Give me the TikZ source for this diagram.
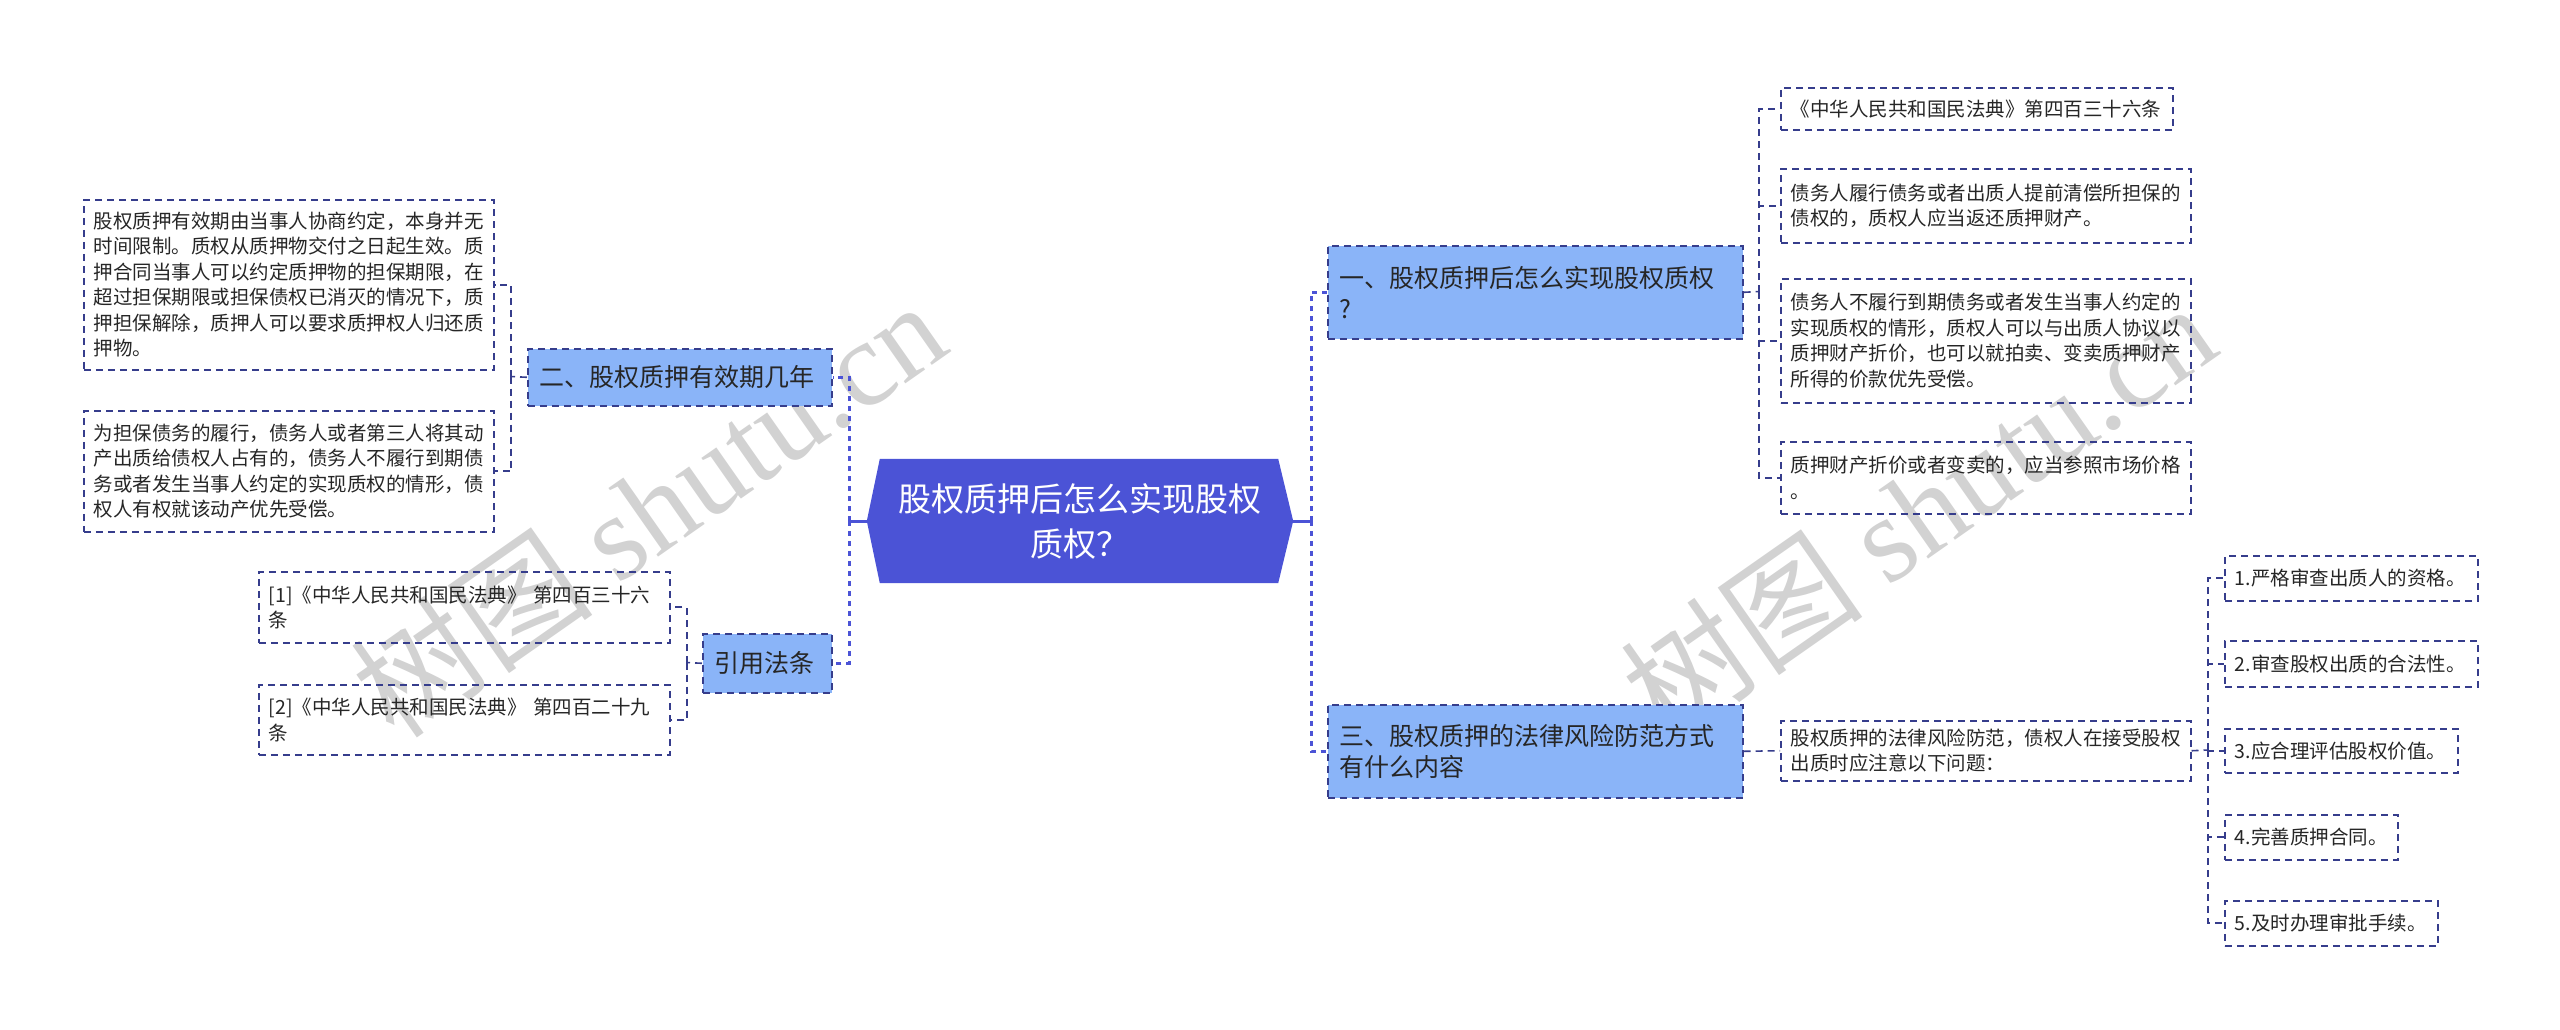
\documentclass[tikz,border=0pt]{standalone}
\usepackage{fontspec}
\setmainfont{Noto Sans CJK SC}
\newfontfamily\wmlatin{Liberation Serif}
\usetikzlibrary{calc}
\definecolor{rootblue}{HTML}{4B53D6}
\definecolor{branchfill}{HTML}{8AB4F8}
\definecolor{navy}{HTML}{363D8C}
\definecolor{wmgray}{HTML}{D2D2D2}
\pgfdeclarelayer{bg}
\pgfsetlayers{bg,main}
\begin{document}
\begin{tikzpicture}[x=1pt,y=-1pt,
 leaf/.style={draw=navy, line width=1.5pt, dash pattern=on 7pt off 5pt, anchor=north west, inner xsep=10pt, inner ysep=0pt, align=left, font=\fontsize{19.5}{25.5}\selectfont, text=black!85},
 branch/.style={draw=navy, line width=1.6pt, dash pattern=on 7pt off 5pt, fill=branchfill, anchor=north west, inner xsep=12pt, inner ysep=0pt, align=left, font=\fontsize{25}{31}\selectfont, text=black!85},
 rootline/.style={draw=rootblue, line width=3pt},
 rootdash/.style={draw=rootblue, line width=3pt, dash pattern=on 5pt off 5pt},
 leafline/.style={draw=navy, line width=1.6pt, dash pattern=on 7pt off 5pt},
 wm/.style={rotate=35, text=wmgray, inner sep=0pt, font=\fontsize{122}{122}\selectfont},
]
\useasboundingbox (0,0) rectangle (2560,1029);

% watermarks
\node[wm] (wm1) at (648,508) {树图 {\wmlatin shutu.cn}};
\node[wm] (wm2) at (1918,510) {树图 {\wmlatin shutu.cn}};

% root
\node[minimum width=426pt, minimum height=124pt, inner sep=0pt, text=white, align=center, font=\fontsize{33}{45}\selectfont] (root) at (1080,521) {股权质押后怎么实现股权\\质权？};
\begin{pgfonlayer}{bg}
\fill[rootblue] (root.west) -- ($(root.north west)+(13,0)$) -- ($(root.north east)+(-15,0)$) -- (root.east) -- ($(root.south east)+(-15,0)$) -- ($(root.south west)+(13,0)$) -- cycle;
\end{pgfonlayer}

% branches
\node[branch, text width=391pt, minimum height=93pt] (b1) at (1327,245) {一、股权质押后怎么实现股权质权\\?};
\node[branch, text width=391pt, minimum height=93pt] (b3) at (1327,704) {三、股权质押的法律风险防范方式\\有什么内容};
\node[branch, text width=280pt, minimum height=57pt] (b2) at (527,348) {二、股权质押有效期几年};
\node[branch, text width=105pt, minimum height=59pt] (bc) at (702,633) {引用法条};

% left leaves
\node[leaf, text width=390pt, minimum height=170pt] (L1) at (83,199) {股权质押有效期由当事人协商约定，本身并无\\时间限制。质权从质押物交付之日起生效。质\\押合同当事人可以约定质押物的担保期限，在\\超过担保期限或担保债权已消灭的情况下，质\\押担保解除，质押人可以要求质押权人归还质\\押物。};
\node[leaf, text width=390pt, minimum height=121pt] (L2) at (83,410) {为担保债务的履行，债务人或者第三人将其动\\产出质给债权人占有的，债务人不履行到期债\\务或者发生当事人约定的实现质权的情形，债\\权人有权就该动产优先受偿。};
\node[leaf, text width=391pt, minimum height=71pt] (C1) at (258,571) {[1]《中华人民共和国民法典》 第四百三十六\\条};
\node[leaf, text width=391pt, minimum height=70pt] (C2) at (258,684) {[2]《中华人民共和国民法典》 第四百二十九\\条};

% right leaves
\node[leaf, text width=372pt, minimum height=42pt] (R1) at (1780,87) {《中华人民共和国民法典》第四百三十六条};
\node[leaf, text width=390pt, minimum height=74pt] (R2) at (1780,168) {债务人履行债务或者出质人提前清偿所担保的\\债权的，质权人应当返还质押财产。};
\node[leaf, text width=390pt, minimum height=124pt] (R3) at (1780,278) {债务人不履行到期债务或者发生当事人约定的\\实现质权的情形，质权人可以与出质人协议以\\质押财产折价，也可以就拍卖、变卖质押财产\\所得的价款优先受偿。};
\node[leaf, text width=390pt, minimum height=72pt] (R4) at (1780,441) {质押财产折价或者变卖的，应当参照市场价格\\。};
\node[leaf, text width=390pt, minimum height=60pt] (R5) at (1780,720) {股权质押的法律风险防范，债权人在接受股权\\出质时应注意以下问题：};

\node[leaf, text width=233pt, minimum height=45pt] (I1) at (2224,555) {1.严格审查出质人的资格。};
\node[leaf, text width=233pt, minimum height=46pt] (I2) at (2224,640) {2.审查股权出质的合法性。};
\node[leaf, text width=213pt, minimum height=44pt] (I3) at (2224,728) {3.应合理评估股权价值。};
\node[leaf, text width=153pt, minimum height=45pt] (I4) at (2224,814) {4.完善质押合同。};
\node[leaf, text width=193pt, minimum height=45pt] (I5) at (2224,900) {5.及时办理审批手续。};

% junctions
\coordinate (jL) at (849,521);
\coordinate (jR) at (1311,521);
\coordinate (j2) at (511,376.5);
\coordinate (jc) at (687,662.5);
\coordinate (j1) at (1759,291.5);
\coordinate (j5) at (2208,750);

% root connectors
\draw[rootline] (root.west) -- (jL);
\draw[rootdash] (jL) |- (b2.east);
\draw[rootdash] (jL) |- (bc.east);
\draw[rootline] (root.east) -- (jR);
\draw[rootdash] (jR) |- (b1.west);
\draw[rootdash] (jR) |- (b3.west);

% left connectors
\draw[leafline] (b2.west) -- (j2);
\draw[leafline] (j2) |- (L1.east);
\draw[leafline] (j2) |- (L2.east);
\draw[leafline] (bc.west) -- (jc);
\draw[leafline] (jc) |- (C1.east);
\draw[leafline] (jc) |- (C2.east);

% right connectors
\draw[leafline] (b1.east) -- (j1);
\draw[leafline] (j1) |- (R1.west);
\draw[leafline] (j1) |- (R2.west);
\draw[leafline] (j1) |- (R3.west);
\draw[leafline] (j1) |- (R4.west);
\draw[leafline] (b3.east) -- (R5.west);
\draw[leafline] (R5.east) -- (j5);
\draw[leafline] (j5) |- (I1.west);
\draw[leafline] (j5) |- (I2.west);
\draw[leafline] (j5) |- (I3.west);
\draw[leafline] (j5) |- (I4.west);
\draw[leafline] (j5) |- (I5.west);
\end{tikzpicture}
\end{document}
